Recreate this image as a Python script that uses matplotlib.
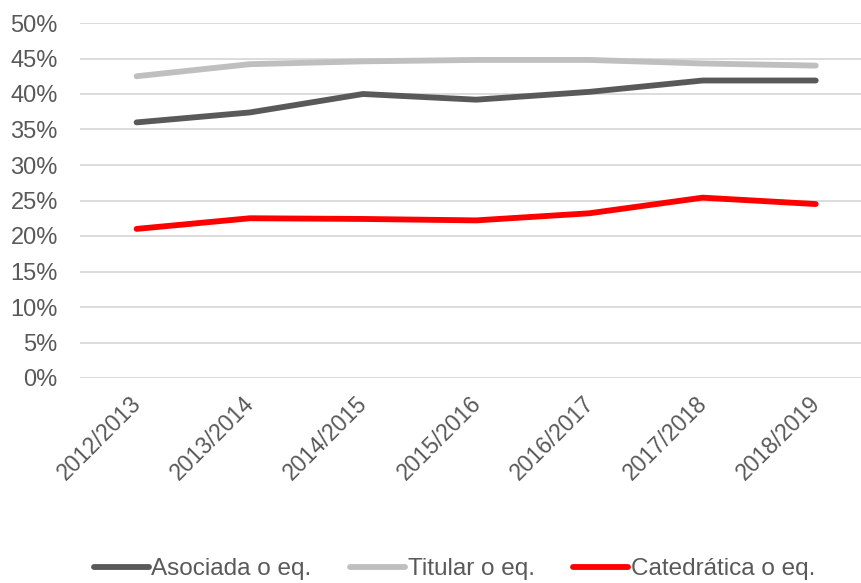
import matplotlib.pyplot as plt
from matplotlib.ticker import PercentFormatter
from matplotlib.transforms import ScaledTranslation

plt.rcParams['font.family'] = ['Liberation Sans', 'DejaVu Sans']

# Academic years
years = ["2012/2013", "2013/2014", "2014/2015", "2015/2016",
         "2016/2017", "2017/2018", "2018/2019"]

# Share of women per category (%)
asociada = [36.0, 37.4, 40.0, 39.2, 40.3, 41.9, 41.9]
titular = [42.5, 44.2, 44.6, 44.8, 44.8, 44.3, 44.0]
catedratica = [21.0, 22.5, 22.4, 22.2, 23.2, 25.4, 24.5]

text_color = "#595959"

fig = plt.figure(figsize=(8.61, 5.83), dpi=100)
ax = fig.add_axes([80 / 861, 1 - 378 / 583, 1 - 80 / 861, (378 - 23) / 583])

x = range(len(years))
ax.plot(x, asociada, color="#595959", lw=4.2, solid_capstyle="round", label="Asociada o eq.")
ax.plot(x, titular, color="#BFBFBF", lw=4.2, solid_capstyle="round", label="Titular o eq.")
ax.plot(x, catedratica, color="#FF0000", lw=4.2, solid_capstyle="round", label="Catedrática o eq.")

ax.set_ylim(0, 50)
ax.set_yticks(range(0, 51, 5))
ax.yaxis.set_major_formatter(PercentFormatter(decimals=0))
ax.set_xlim(-0.5, 6.4)
ax.set_xticks(list(x))
ax.set_xticklabels(years, rotation=45, ha="right", rotation_mode="anchor")

ax.grid(axis="y", color="#D9D9D9", lw=1.3)
ax.set_axisbelow(True)
for s in ax.spines.values():
    s.set_visible(False)
ax.tick_params(length=0, labelsize=17, colors=text_color)
ax.tick_params(axis="x", pad=10, labelsize=16.5)
ax.tick_params(axis="y", pad=16)

shift = ScaledTranslation(-7 / 100, 0, fig.dpi_scale_trans)
for lab in ax.get_xticklabels():
    lab.set_transform(lab.get_transform() + shift)

leg = fig.legend(loc="lower center", bbox_to_anchor=(0.528, -0.033), ncol=3, frameon=False,
                 fontsize=17.5, handlelength=2.25, handletextpad=0.1, columnspacing=1.6)
for t in leg.get_texts():
    t.set_color(text_color)

fig.savefig("out.png", dpi=100)
